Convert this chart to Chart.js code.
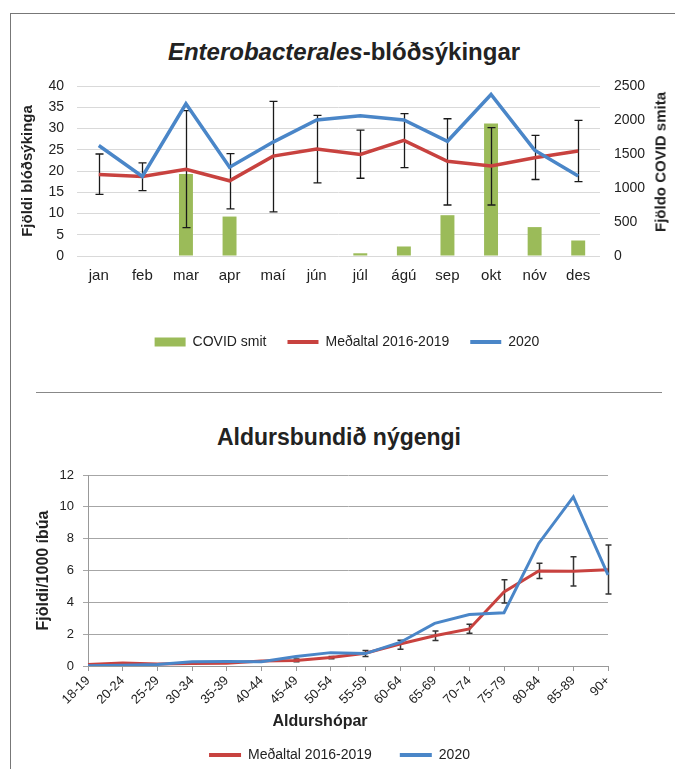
<!DOCTYPE html>
<html>
<head>
<meta charset="utf-8">
<script src="https://cdn.jsdelivr.net/npm/chart.js@4.4.1/dist/chart.umd.min.js"></script>
<style>
  body { margin: 0; width: 675px; height: 769px; overflow: hidden; background: #fff; position: relative;
         font-family: "Liberation Sans", Arial, sans-serif; color: #222; }
  .abs { position: absolute; white-space: nowrap; }
  .frame-top { position: absolute; left: 10px; top: 13px; width: 665px; height: 0; border-top: 1.5px solid #777; }
  .frame-left { position: absolute; left: 10px; top: 13px; width: 0; height: 756px; border-left: 1.5px solid #777; }
  .sep { position: absolute; left: 36px; top: 392px; width: 626px; height: 0; border-top: 1px solid #888; }
</style>
</head>
<body>
<div class="frame-top"></div>
<div class="frame-left"></div>

<div class="abs" id="title1" style="left:344px; top:38px; transform:translateX(-50%); font-size:24px; line-height:28px; font-weight:bold;"><i>Enterobacterales</i>-blóðsýkingar</div>
<div class="abs" style="left:0; top:60px;"><canvas id="c1" width="675" height="300"></canvas></div>
<div class="abs" style="left:660px; top:162px; transform:translate(-50%,-50%) rotate(-90deg); font-size:15px; font-weight:bold;">Fjöldo COVID smita</div>

<div class="sep"></div>

<div class="abs" style="left:339px; top:423px; transform:translateX(-50%); font-size:23px; line-height:28px; font-weight:bold;">Aldursbundið nýgengi</div>
<div class="abs" style="left:0; top:450px;"><canvas id="c2" width="675" height="322"></canvas></div>
<div class="abs" style="left:320px; top:712px; transform:translateX(-50%); font-size:16px; line-height:18px; font-weight:bold;">Aldurshópar</div>

<script>
// efri mynd: blóðsýkingar eftir mánuðum
const months = ['jan', 'feb', 'mar', 'apr', 'maí', 'jún', 'júl', 'ágú', 'sep', 'okt', 'nóv', 'des'];
const covidCases = [0, 0, 1205, 580, 0, 0, 40, 140, 600, 1950, 425, 228];
const bsiMean = [19.2, 18.7, 20.4, 17.7, 23.5, 25.2, 23.9, 27.2, 22.3, 21.2, 23.1, 24.7];
const bsiLow = [14.5, 15.4, 6.7, 11.1, 10.4, 17.2, 18.3, 20.8, 12.0, 12.0, 18.0, 17.5];
const bsiHigh = [24.0, 21.9, 34.2, 24.1, 36.4, 33.1, 29.6, 33.5, 32.3, 30.2, 28.4, 31.9];
const bsi2020 = [26.0, 18.7, 35.8, 20.9, 26.8, 32.0, 33.0, 32.0, 27.0, 38.0, 24.9, 18.8];

// neðri mynd: aldursbundið nýgengi
const ageGroups = ['18-19', '20-24', '25-29', '30-34', '35-39', '40-44', '45-49', '50-54',
  '55-59', '60-64', '65-69', '70-74', '75-79', '80-84', '85-89', '90+'];
const incMean = [0.1, 0.19, 0.12, 0.15, 0.17, 0.32, 0.35, 0.53, 0.8, 1.38, 1.9, 2.33, 4.65, 5.97, 5.95, 6.04];
const inc2020 = [0.02, 0.05, 0.1, 0.26, 0.28, 0.27, 0.6, 0.84, 0.78, 1.48, 2.68, 3.23, 3.35, 7.7, 10.62, 5.72];
const incLow = [null, null, null, null, null, null, 0.26, 0.46, 0.6, 1.06, 1.6, 2.06, 3.96, 5.5, 5.03, 4.53];
const incHigh = [null, null, null, null, null, null, 0.44, 0.6, 0.98, 1.62, 2.2, 2.62, 5.42, 6.46, 6.86, 7.6];

const RED = '#c8423f';
const BLUE = '#4a86c8';
const GREEN = '#9bbb59';

// villustikur teiknaðar með kvarða grafsins
const errorBars = {
  id: 'errorBars',
  beforeDatasetDraw(chart, args, opts) {
    const ds = chart.data.datasets[args.index];
    if (!ds.errLow) return;
    const xs = args.meta.xScale, ys = args.meta.yScale;
    const ctx = chart.ctx;
    ctx.save();
    ctx.strokeStyle = opts.color;
    ctx.lineWidth = opts.width;
    ds.errLow.forEach((lo, i) => {
      const hi = ds.errHigh[i];
      if (lo == null || hi == null) return;
      const x = Math.round(xs.getPixelForValue(i)) + 0.5;
      const y1 = ys.getPixelForValue(lo), y2 = ys.getPixelForValue(hi);
      ctx.beginPath();
      ctx.moveTo(x, y1); ctx.lineTo(x, y2);
      ctx.moveTo(x - opts.cap, y1); ctx.lineTo(x + opts.cap, y1);
      ctx.moveTo(x - opts.cap, y2); ctx.lineTo(x + opts.cap, y2);
      ctx.stroke();
    });
    ctx.restore();
  }
};

function legendLabels(chart) {
  return Chart.defaults.plugins.legend.labels.generateLabels(chart).map(item => {
    const ds = chart.data.datasets[item.datasetIndex];
    if (ds.type === 'bar') {
      item.pointStyle = 'rect';
      item.lineWidth = 0;
    } else {
      item.pointStyle = 'line';
      item.lineWidth = 4;
    }
    return item;
  });
}

new Chart(document.getElementById('c1'), {
  data: {
    labels: months,
    datasets: [
      { type: 'bar', label: 'COVID smit', data: covidCases, yAxisID: 'y2', backgroundColor: GREEN,
        barPercentage: 0.32, categoryPercentage: 1, order: 2 },
      { type: 'line', label: 'Meðaltal 2016-2019', data: bsiMean, yAxisID: 'y', borderColor: RED,
        backgroundColor: RED, borderWidth: 3.5, pointRadius: 0, tension: 0, order: 1,
        errLow: bsiLow, errHigh: bsiHigh },
      { type: 'line', label: '2020', data: bsi2020, yAxisID: 'y', borderColor: BLUE,
        backgroundColor: BLUE, borderWidth: 3.5, pointRadius: 0, tension: 0, order: 0 },
    ]
  },
  plugins: [errorBars],
  options: {
    responsive: false,
    animation: false,
    layout: { padding: { left: 19, right: 0, top: 26, bottom: 1 } },
    plugins: {
      tooltip: { enabled: false },
      errorBars: { color: '#1a1a1a', width: 1.3, cap: 4 },
      legend: {
        position: 'bottom',
        labels: {
          usePointStyle: true, pointStyleWidth: 31, boxHeight: 9, padding: 21,
          font: { family: 'Liberation Sans', size: 14 }, color: '#222',
          generateLabels: legendLabels,
          sort: (a, b) => a.datasetIndex - b.datasetIndex,
        }
      }
    },
    scales: {
      x: {
        grid: { display: false }, border: { display: false },
        ticks: { font: { family: 'Liberation Sans', size: 15 }, color: '#222', padding: 3 },
        afterFit(s) { s.height = 58; }
      },
      y: {
        position: 'left', min: 0, max: 40,
        ticks: { stepSize: 5, font: { family: 'Liberation Sans', size: 14 }, color: '#222', padding: 13 },
        grid: { color: '#d9d9d9', drawTicks: false }, border: { display: false },
        title: { display: true, text: 'Fjöldi blóðsýkinga', font: { family: 'Liberation Sans', size: 15, weight: 'bold' }, color: '#222', padding: 0 },
        afterFit(s) { s.width = 58; }
      },
      y2: {
        position: 'right', min: 0, max: 2500,
        ticks: { stepSize: 500, font: { family: 'Liberation Sans', size: 14 }, color: '#222', padding: 14,
                 callback: v => String(v) },
        grid: { drawOnChartArea: false, drawTicks: false }, border: { display: false },
        afterFit(s) { s.width = 75; }
      }
    }
  }
});

new Chart(document.getElementById('c2'), {
  type: 'line',
  data: {
    labels: ageGroups,
    datasets: [
      { label: 'Meðaltal 2016-2019', data: incMean, borderColor: RED, backgroundColor: RED,
        borderWidth: 3, pointRadius: 0, tension: 0, order: 1, errLow: incLow, errHigh: incHigh },
      { label: '2020', data: inc2020, borderColor: BLUE, backgroundColor: BLUE,
        borderWidth: 3, pointRadius: 0, tension: 0, order: 0 },
    ]
  },
  plugins: [errorBars],
  options: {
    responsive: false,
    animation: false,
    layout: { padding: { left: 34, right: 30, top: 25, bottom: 0 } },
    plugins: {
      tooltip: { enabled: false },
      errorBars: { color: '#333', width: 1.5, cap: 3 },
      legend: {
        position: 'bottom',
        labels: {
          usePointStyle: true, pointStyleWidth: 32, boxHeight: 9, padding: 28,
          font: { family: 'Liberation Sans', size: 14 }, color: '#222',
          generateLabels: legendLabels,
          sort: (a, b) => a.datasetIndex - b.datasetIndex,
        }
      }
    },
    scales: {
      x: {
        grid: { drawOnChartArea: false, drawTicks: true, tickLength: 5, color: '#999' },
        border: { color: '#999' },
        ticks: { minRotation: 45, maxRotation: 45, autoSkip: false, padding: 2,
                 font: { family: 'Liberation Sans', size: 13 }, color: '#222' },
        afterFit(s) { s.height = 54; }
      },
      y: {
        min: 0, max: 12,
        ticks: { stepSize: 2, font: { family: 'Liberation Sans', size: 13 }, color: '#222', padding: 9 },
        grid: { color: '#a6a6a6', tickLength: 5 },
        border: { color: '#999' },
        title: { display: true, text: 'Fjöldi/1000 íbúa', font: { family: 'Liberation Sans', size: 16, weight: 'bold' }, color: '#222', padding: 0 },
        afterFit(s) { s.width = 54; }
      },
      // tómur hægri kvarði, aðeins til að halda plássi hægra megin
      yr: {
        position: 'right', min: 0, max: 12,
        ticks: { display: false }, grid: { drawOnChartArea: false, drawTicks: false },
        border: { display: false },
        afterFit(s) { s.width = 37; }
      }
    }
  }
});
</script>
</body>
</html>
